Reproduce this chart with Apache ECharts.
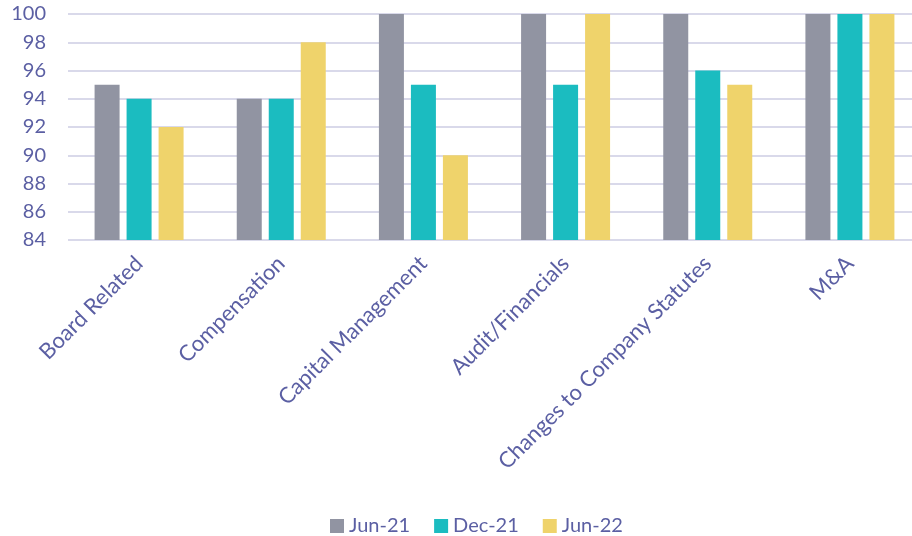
<!DOCTYPE html>
<html><head><meta charset="utf-8">
<script src="https://cdn.jsdelivr.net/npm/echarts@6/dist/echarts.min.js"></script>
<style>html,body{margin:0;padding:0;background:#fff}#c{width:912px;height:536px}</style>
</head><body><div id="c"></div>
<script>
const categories = ['Board Related','Compensation','Capital Management','Audit/Financials','Changes to Company Statutes','M&A'];
const jun21 = [95, 94, 100, 100, 100, 100];
const dec21 = [94, 94, 95, 95, 96, 100];
const jun22 = [92, 98, 90, 100, 95, 100];
const seriesNames = ['Jun-21','Dec-21','Jun-22'];
const colors = ['#9194a2','#1bbcc0','#efd36b'];
const textColor = '#5b5fa3';
const font = 'Lato';
const chart = echarts.init(document.getElementById('c'));
const data = [jun21, dec21, jun22];
chart.setOption({
  animation:false,
  textStyle:{fontFamily:font},
  grid:{left:68, top:14, width:853, height:226, containLabel:false, outerBoundsMode:'none'},
  legend:{top:511, left:325, itemWidth:14, itemHeight:14, itemGap:24,
    icon:'rect',
    textStyle:{color:textColor, fontSize:20, fontFamily:font},
    data:seriesNames},
  xAxis:{type:'category', data:categories,
    axisLine:{show:false}, axisTick:{show:false},
    axisLabel:{rotate:45, interval:0, color:textColor, fontSize:22, fontFamily:font, margin:20}},
  yAxis:{type:'value', min:84, max:100, interval:2,
    axisLine:{show:false}, axisTick:{show:false},
    splitLine:{lineStyle:{color:'#d9d9ea', width:2}},
    axisLabel:{color:textColor, fontSize:20, fontFamily:font, margin:22}},
  series: seriesNames.map((n,i)=>({name:n, type:'bar', data:data[i], barWidth:25, barGap:'28%',
    itemStyle:{color:colors[i]}}))
});
</script></body></html>
